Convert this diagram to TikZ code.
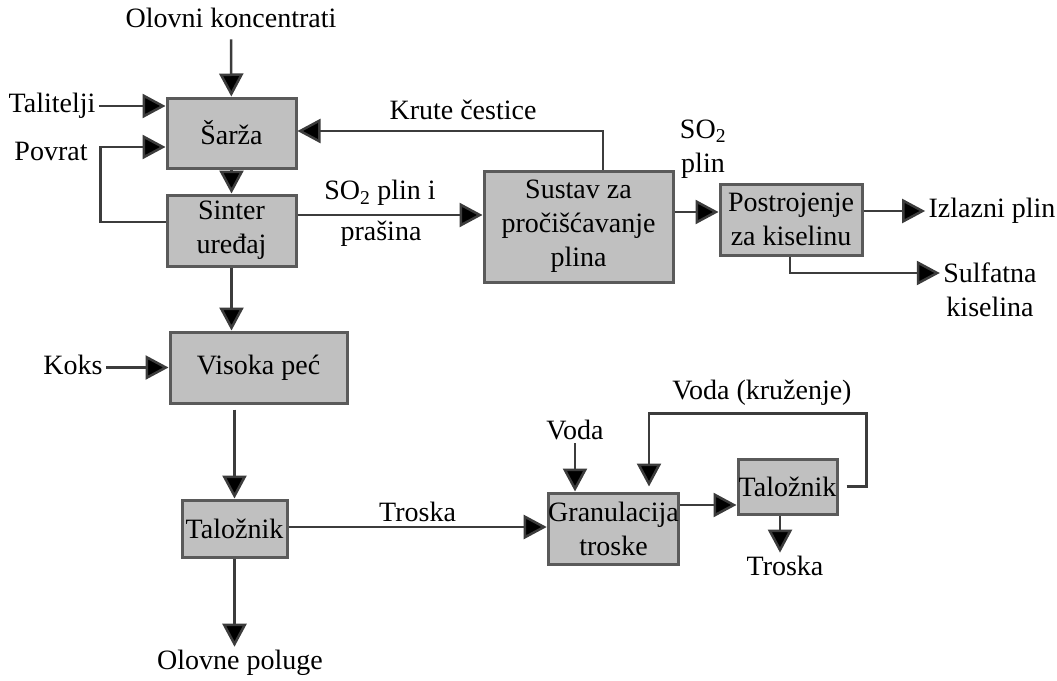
\documentclass[tikz,border=0pt]{standalone}
\usepackage{fontspec}
\setmainfont{Liberation Serif}
\usetikzlibrary{arrows.meta}
\definecolor{boxgray}{RGB}{192,192,192}
\definecolor{edgegray}{RGB}{90,90,90}
\definecolor{linegray}{RGB}{60,60,60}
\begin{document}
\begin{tikzpicture}[x=1pt,y=-1pt,
  font=\fontsize{28}{34}\selectfont,
  box/.style={draw=edgegray, line width=3pt, fill=boxgray, inner sep=0pt, align=center},
  lbl/.style={align=center},
  arr/.style={draw=linegray, line width=2.5pt, -{Triangle[length=23pt,width=24pt,fill=black]}}]
\useasboundingbox (0,0) rectangle (1057,680);

%blokovi
\node[box, minimum width=129, minimum height=70] (sarza) at (231.5,133) {Šarža};
\node[box, minimum width=129, minimum height=71] (sinter) at (231.5,230.5) {Sinter\\uređaj};
\node[box, minimum width=189, minimum height=111] (sustav) at (578.5,226.5) {Sustav za\\pročišćavanje\\plina};
\node[box, minimum width=142, minimum height=71] (postr) at (791,219.5) {Postrojenje\\za kiselinu};
\node[box, minimum width=177, minimum height=71] (visoka) at (258.5,367.5) {Visoka peć};
\node[box, minimum width=105, minimum height=57] (talA) at (234.5,528.5) {Taložnik};
\node[box, minimum width=129, minimum height=71] (gran) at (613.5,528.5) {Granulacija\\troske};
\node[box, minimum width=99, minimum height=55] (talB) at (787.5,486.5) {Taložnik};

%ulazi i izlazi
\node[lbl] (olov) at (231,18) {Olovni koncentrati};
\node[lbl] (talit) at (52,106) {Talitelji};
\node[lbl] (povrat) at (51,151) {Povrat};
\node[lbl] (krute) at (463,110) {Krute čestice};
\node[lbl] (so2a) at (380,193) {SO\textsubscript{2} plin i};
\node[lbl] (prasina) at (381,234) {prašina};
\node[lbl] (so2b) at (703,149) {SO\textsubscript{2}\\plin};
\node[lbl] (izlaz) at (992,211) {Izlazni plin};
\node[lbl] (sulf) at (990,290) {Sulfatna\\kiselina};
\node[lbl] (koks) at (73,365) {Koks};
\node[lbl] (olovne) at (240,663) {Olovne poluge};
\node[lbl] (voda) at (575,430) {Voda};
\node[lbl] (vodak) at (762,393) {Voda (kruženje)};
\node[lbl] (troskaB) at (785,566) {Troska};

%veze
\draw[arr, shorten <=8pt] (olov) -- (sarza);
\draw[arr] (talit.east) -- (talit.east -| sarza.west);
\draw[arr] ([yshift=8.5]sinter.west) -- ++(-65,0) |- ([yshift=-14]sarza.west);
\draw[arr] (sarza) -- (sinter);
\draw[arr] ([yshift=15.5]sinter.east) -- ([yshift=15.5]sinter.east -| sustav.west);
\draw[arr] ([xshift=24.5]sustav.north) |- ([yshift=2]sarza.east);
\draw[arr] ([yshift=14.5]sustav.east) -- ([yshift=14.5]sustav.east -| postr.west);
\draw[arr] ([yshift=8.5]postr.east) -- ([yshift=8.5]postr.east -| izlaz.west);
\draw[arr] ([xshift=-1]postr.south) |- ([yshift=17]sulf.west);
\draw[arr] (sinter.south) -- (sinter.south |- visoka.north);
\draw[arr] (koks.east |- visoka) -- (visoka.west);
\draw[arr] ([yshift=-5]talA.north |- visoka.south) -- (talA.north);
\draw[arr] (talA.south) -- (talA.south |- olovne.north);
\draw[arr] ([yshift=1.5]talA.east) -- node[lbl, above=1pt] (troskaA) {Troska} ([yshift=1.5]talA.east -| gran.west);
\draw[arr] (voda.south) -- (voda.south |- gran.north);
\draw[arr] ([xshift=8]talB.east) -- ++(20,0) -- ++(0,-73) -| ([xshift=35.5,yshift=5]gran.north);
\draw[arr] ([yshift=23.5]gran.east) -- ([yshift=23.5]gran.east -| talB.west);
\draw[arr] ([xshift=-7.5]talB.south) -- ([xshift=-7.5]talB.south |- troskaB.north);

\end{tikzpicture}
\end{document}
